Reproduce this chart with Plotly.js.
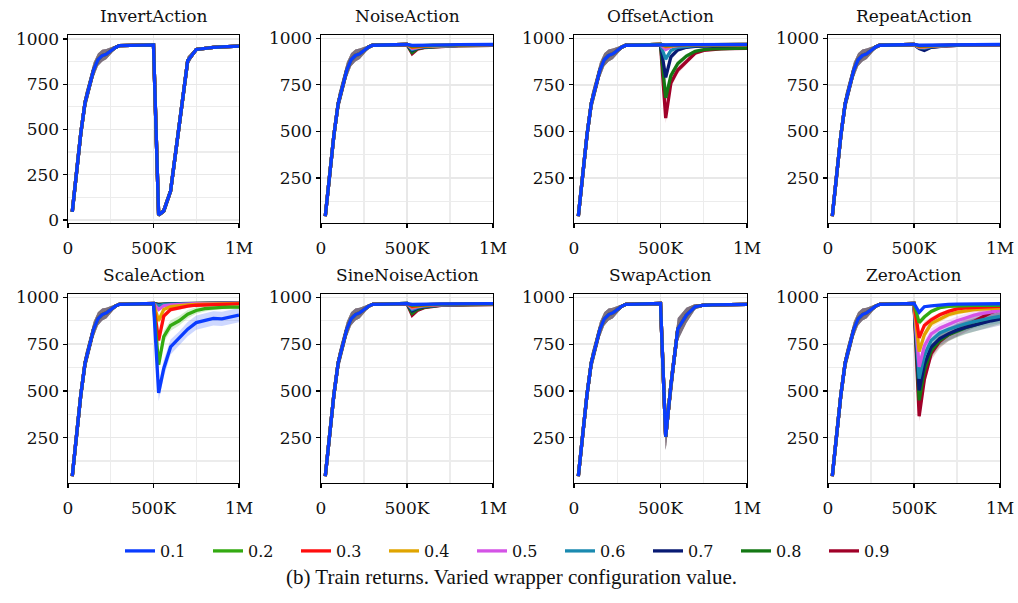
<!DOCTYPE html>
<html><head><meta charset="utf-8">
<script src="https://cdn.plot.ly/plotly-3.0.1.min.js"></script>
<style>html,body{margin:0;padding:0;background:#fff}#chart{width:1018px;height:603px}</style>
</head><body><div id="chart"></div>
<script>
const PANELS = ['InvertAction','NoiseAction','OffsetAction','RepeatAction','ScaleAction','SineNoiseAction','SwapAction','ZeroAction'];
const LEVELS = ['0.1','0.2','0.3','0.4','0.5','0.6','0.7','0.8','0.9'];
const COLORS = ['#0a3cff','#33aa11','#ff0d0d','#e0a500','#d453e6','#1a8ab0','#081a73','#147814','#a00028'];
const X_TICKS = [0, 500000, 1000000];
const X_TICK_TEXT = ['0','500K','1M'];

// shared pre-wrapper phase (all configuration values identical)
const X_PRE = [25000,50000,75000,100000,125000,150000,175000,200000,225000,250000,275000,300000,350000,400000,450000,500000];
const PRE_MEAN = [45,265,480,650,735,830,885,908,917,935,952,963,964,965,966,967];
const PRE_SD = [5,25,40,45,45,40,35,32,28,20,10,5,3,3,3,3];

// post-wrapper phase
const X_POST = [530000,560000,600000,650000,700000,750000,800000,850000,900000,950000,1000000];

const INVERT_POST = [28,50,160,520,880,942,950,954,956,958,960];
const SWAP_POST = [255,530,830,905,950,958,960,961,962,962,963];

const NOISE_POST = [
 [962,963,964,964,965,965,966,966,966,967,967],
 [958,960,962,963,964,964,965,965,966,966,966],
 [955,958,960,962,963,964,964,965,965,966,966],
 [950,955,958,960,962,963,964,964,965,965,966],
 [945,952,957,960,961,962,963,964,964,965,965],
 [940,950,955,958,960,962,963,963,964,964,965],
 [935,948,954,957,959,961,962,963,963,964,964],
 [925,945,952,956,958,960,961,962,962,963,963],
 [918,942,950,954,957,959,960,961,962,962,962]];
const REPEAT_POST = [
 [963,963,964,964,965,965,966,966,966,967,967],
 [960,960,962,963,964,964,965,965,966,966,966],
 [958,958,961,962,963,964,964,965,965,966,966],
 [955,955,960,962,963,964,964,965,965,965,966],
 [952,952,958,961,962,963,964,964,965,965,965],
 [950,948,956,960,962,963,963,964,964,965,965],
 [945,935,952,958,961,962,963,963,964,964,965],
 [950,945,955,959,961,962,963,963,964,964,964],
 [948,942,954,958,960,962,962,963,963,964,964]];
const SINE_POST = [
 [962,963,964,964,965,965,966,966,966,967,967],
 [958,960,962,963,964,964,965,965,966,966,966],
 [952,956,960,962,963,964,964,965,965,966,966],
 [948,954,958,961,962,963,964,964,965,965,966],
 [942,950,956,960,961,962,963,964,964,965,965],
 [935,946,954,958,960,962,963,963,964,964,965],
 [928,942,952,957,959,961,962,963,963,964,964],
 [915,935,948,955,958,960,961,962,962,963,963],
 [905,930,945,953,957,959,960,961,962,962,962]];
const OFFSET_POST = [
 [964,965,965,966,966,966,967,967,967,967,968],
 [962,964,965,965,966,966,966,967,967,967,967],
 [960,963,964,965,965,966,966,966,967,967,967],
 [955,960,963,964,965,965,966,966,966,966,967],
 [940,955,961,963,964,965,965,966,966,966,966],
 [888,935,952,958,961,962,963,964,964,965,965],
 [790,900,938,952,957,959,960,961,961,962,962],
 [680,800,865,905,930,940,944,946,947,948,948],
 [572,760,830,875,920,935,940,943,945,946,946]];
const SCALE_POST = [
 [490,620,735,780,830,865,878,888,885,897,905],
 [640,790,850,875,910,930,940,945,947,948,948],
 [770,900,935,945,953,958,960,962,963,964,965],
 [875,935,950,956,960,963,965,966,967,967,968],
 [935,955,960,963,965,966,967,968,968,969,969],
 [955,962,964,965,966,967,968,968,969,969,969],
 [960,964,965,966,967,967,968,968,969,969,969],
 [962,965,966,966,967,968,968,969,969,969,970],
 [963,965,966,967,967,968,968,969,969,970,970]];
const ZERO_POST = [
 [920,950,955,960,963,964,965,965,966,966,966],
 [865,895,925,945,952,955,956,957,957,958,958],
 [784,850,880,907,925,938,944,947,949,951,952],
 [710,800,860,885,907,920,928,934,938,941,943],
 [629,740,805,835,855,875,890,905,915,923,930],
 [566,690,770,810,830,845,858,870,882,891,898],
 [503,640,735,780,805,825,840,853,865,875,884],
 [450,610,715,770,800,820,838,852,866,880,893],
 [365,560,700,765,800,825,850,875,900,920,935]];

// spread of each post-phase curve (one array per panel, or one per configuration value)
const INVERT_SD = [10,15,30,40,25,10,8,6,5,5,5];
const NOISE_SD = [10,8,6,5,5,5,5,5,5,5,5];
const OFFSET_SD = [
 [4,4,4,4,4,4,4,4,4,4,4],
 [4,4,4,4,4,4,4,4,4,4,4],
 [5,4,4,4,4,4,4,4,4,4,4],
 [8,5,4,4,4,4,4,4,4,4,4],
 [12,8,5,4,4,4,4,4,4,4,4],
 [18,12,8,6,5,4,4,4,4,4,4],
 [22,18,12,8,6,5,5,5,5,5,5],
 [25,20,15,12,8,6,5,5,5,5,5],
 [28,25,20,15,10,8,6,6,6,6,6]];
const REPEAT_SD = [8,6,5,5,5,5,5,5,5,5,5];
const SCALE_SD = [
 [45,45,40,38,38,38,38,38,38,38,38],
 [30,30,28,25,22,18,15,12,10,10,10],
 [20,15,12,10,8,6,5,5,5,5,5],
 [12,8,6,5,5,5,5,5,5,5,5],
 [8,5,5,4,4,4,4,4,4,4,4],
 [5,4,4,4,4,4,4,4,4,4,4],
 [4,4,4,4,4,4,4,4,4,4,4],
 [4,4,4,4,4,4,4,4,4,4,4],
 [4,4,4,4,4,4,4,4,4,4,4]];
const SINE_SD = [10,8,6,5,5,5,5,5,5,5,5];
const SWAP_SD = [70,80,60,40,15,6,5,5,5,5,5];
const ZERO_SD = [
 [8,6,5,5,5,5,5,5,5,5,5],
 [15,12,10,8,6,5,5,5,5,5,5],
 [20,18,15,12,10,8,8,8,8,8,8],
 [25,22,20,18,15,14,13,12,12,12,12],
 [30,30,28,26,25,24,23,22,22,22,22],
 [30,35,35,35,35,35,35,35,35,35,35],
 [30,35,35,35,35,35,35,35,35,35,35],
 [30,35,35,35,35,35,35,35,35,35,35],
 [30,35,35,35,35,35,35,35,35,35,35]];

const POSTS = [
  LEVELS.map(() => INVERT_POST), NOISE_POST, OFFSET_POST, REPEAT_POST,
  SCALE_POST, SINE_POST, LEVELS.map(() => SWAP_POST), ZERO_POST];
const SDS = [INVERT_SD, NOISE_SD, OFFSET_SD, REPEAT_SD, SCALE_SD, SINE_SD, SWAP_SD, ZERO_SD];

const COL_PX = [[68,239],[321,493],[574,747],[828,1000]];
const ROW_PX = [[35,223],[294,483]];
const W = 1018, H = 603;

function rgba(hex, a){
  const n = parseInt(hex.slice(1),16);
  return `rgba(${(n>>16)&255},${(n>>8)&255},${n&255},${a})`;
}

const FONT = 'DejaVu Serif, serif';
const traces = [];
const layout = {
  width: W, height: H,
  margin: {l:0,r:0,t:0,b:0},
  paper_bgcolor: '#fff', plot_bgcolor: '#fff',
  showlegend: true,
  font: {family: FONT, size: 17, color: '#111'},
  legend: {orientation:'h', x:516/W, xanchor:'center', y:1-551/H, yanchor:'middle',
           entrywidth: 43, entrywidthmode:'pixels', font:{family:FONT,size:16,color:'#111'},
           traceorder:'normal', bgcolor:'rgba(0,0,0,0)'},
  annotations: [],
};

PANELS.forEach((name, p) => {
  const r = Math.floor(p/4), c = p % 4;
  const xs = X_PRE.concat(X_POST);
  const xa = p === 0 ? 'x' : 'x' + (p+1);
  const ya = p === 0 ? 'y' : 'y' + (p+1);
  const sdOf = s => PRE_SD.concat(Array.isArray(SDS[p][0]) ? SDS[p][s] : SDS[p]);
  // draw 0.9 first so that 0.1 ends on top
  for (let s = LEVELS.length - 1; s >= 0; s--) {
    const mean = PRE_MEAN.concat(POSTS[p][s]);
    const sd = sdOf(s);
    const up = mean.map((v,i) => v + sd[i]);
    const lo = mean.map((v,i) => v - sd[i]);
    traces.push({
      type:'scatter', mode:'lines', xaxis:xa, yaxis:ya,
      x: xs.concat(xs.slice().reverse()),
      y: up.concat(lo.slice().reverse()),
      fill:'toself', fillcolor: rgba(COLORS[s], 0.2),
      line:{width:0, color:'rgba(0,0,0,0)'}, hoverinfo:'skip', showlegend:false
    });
  }
  for (let s = LEVELS.length - 1; s >= 0; s--) {
    const mean = PRE_MEAN.concat(POSTS[p][s]);
    traces.push({
      type:'scatter', mode:'lines', xaxis:xa, yaxis:ya,
      x: xs, y: mean, name: LEVELS[s],
      line:{color: COLORS[s], width: 3.3},
      showlegend: p === 0, legendrank: s + 1
    });
  }
  const xd = [COL_PX[c][0]/W, COL_PX[c][1]/W];
  const yd = [1 - ROW_PX[r][1]/H, 1 - ROW_PX[r][0]/H];
  const isInv = p === 0;
  const axBase = {
    showline:true, mirror:true, linecolor:'#000', linewidth:1.4,
    ticks:'outside', ticklen:4, tickwidth:1.2, tickcolor:'#000',
    showgrid:true, gridcolor:'#e8e8e8', gridwidth:1.3, zeroline:false,
    tickfont:{family:FONT, size:17, color:'#111'}, fixedrange:true
  };
  layout[p === 0 ? 'xaxis' : 'xaxis'+(p+1)] = Object.assign({}, axBase, {
    domain: xd, anchor: ya, range:[0, 1000000],
    tickmode:'array', tickvals: X_TICKS, ticktext: X_TICK_TEXT,
    ticklabelstandoff: 5,
    minor:{tickmode:'linear', tick0:0, dtick:250000, showgrid:true, gridcolor:'#ececec', gridwidth:1.3, ticks:''}
  });
  layout[p === 0 ? 'yaxis' : 'yaxis'+(p+1)] = Object.assign({}, axBase, {
    domain: yd, anchor: xa, range: isInv ? [-17, 1022] : [8, 1018],
    tickmode:'array', tickvals: isInv ? [0,250,500,750,1000] : [250,500,750,1000],
    minor:{tickmode:'linear', tick0:0, dtick:125, showgrid:true, gridcolor:'#ececec', gridwidth:1.3, ticks:''}
  });
  layout.annotations.push({
    text: name, xref:'paper', yref:'paper',
    x: (xd[0]+xd[1])/2, y: 1 - (ROW_PX[r][0]-19)/H,
    xanchor:'center', yanchor:'middle', showarrow:false,
    font:{family:FONT, size:17, color:'#111'}
  });
});

layout.annotations.push({
  text:'(b) Train returns. Varied wrapper configuration value.',
  xref:'paper', yref:'paper', x: 512/W, y: 1 - 577/H,
  xanchor:'center', yanchor:'middle', showarrow:false,
  font:{family:'Liberation Serif, Times New Roman, serif', size:21, color:'#111'}
});

Plotly.newPlot('chart', traces, layout, {staticPlot:true, displayModeBar:false});
</script>
</body></html>
